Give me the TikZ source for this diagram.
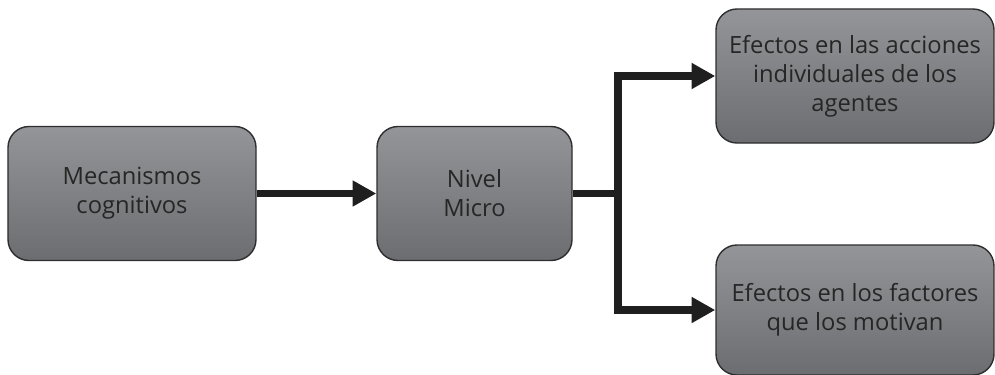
\documentclass[tikz,border=0pt]{standalone}
\usepackage{fontspec}
\setmainfont{Open Sans}
\usetikzlibrary{arrows.meta}
\definecolor{boxtop}{HTML}{949598}
\definecolor{boxbot}{HTML}{6C6D70}
\definecolor{boxline}{HTML}{2E2E30}
\definecolor{txt}{HTML}{262626}
\begin{document}
\begin{tikzpicture}[line cap=butt,line join=miter,
    box/.style={draw=boxline,line width=0.8pt,rounded corners=0.42cm,
      top color=boxtop,bottom color=boxbot,text=txt,align=center,
      inner sep=0pt,font=\fontsize{13.5}{16.5}\selectfont},
    conn/.style={line width=4.5pt,draw=black!88,
      -{Triangle[length=13.5pt,width=14pt]}}]
        \useasboundingbox (0,0) rectangle (19.9,-7.48);

        \node[box,minimum width=4.96cm,minimum height=2.68cm] (mec) at (2.64,-3.87) {Mecanismos\\cognitivos};
        \node[box,minimum width=3.9cm,minimum height=2.68cm] (micro) at (9.49,-3.87) {Nivel\\Micro};
        \node[box,minimum width=5.56cm,minimum height=2.68cm] (acc) at (17.1,-1.52) {Efectos en las acciones\\individuales de los\\agentes};
        \node[box,minimum width=5.56cm,minimum height=2.6cm] (fac) at (17.1,-6.2) {Efectos en los factores\\que los motivan};
        \coordinate (jn) at (12.36,-3.87);

        \draw[conn] (mec) -- (micro);
        \draw[line width=4.5pt,draw=black!88] (micro) -- (jn);
        \draw[conn] (jn) |- (acc);
        \draw[conn] (jn) |- (fac);
      \end{tikzpicture}
\end{document}
